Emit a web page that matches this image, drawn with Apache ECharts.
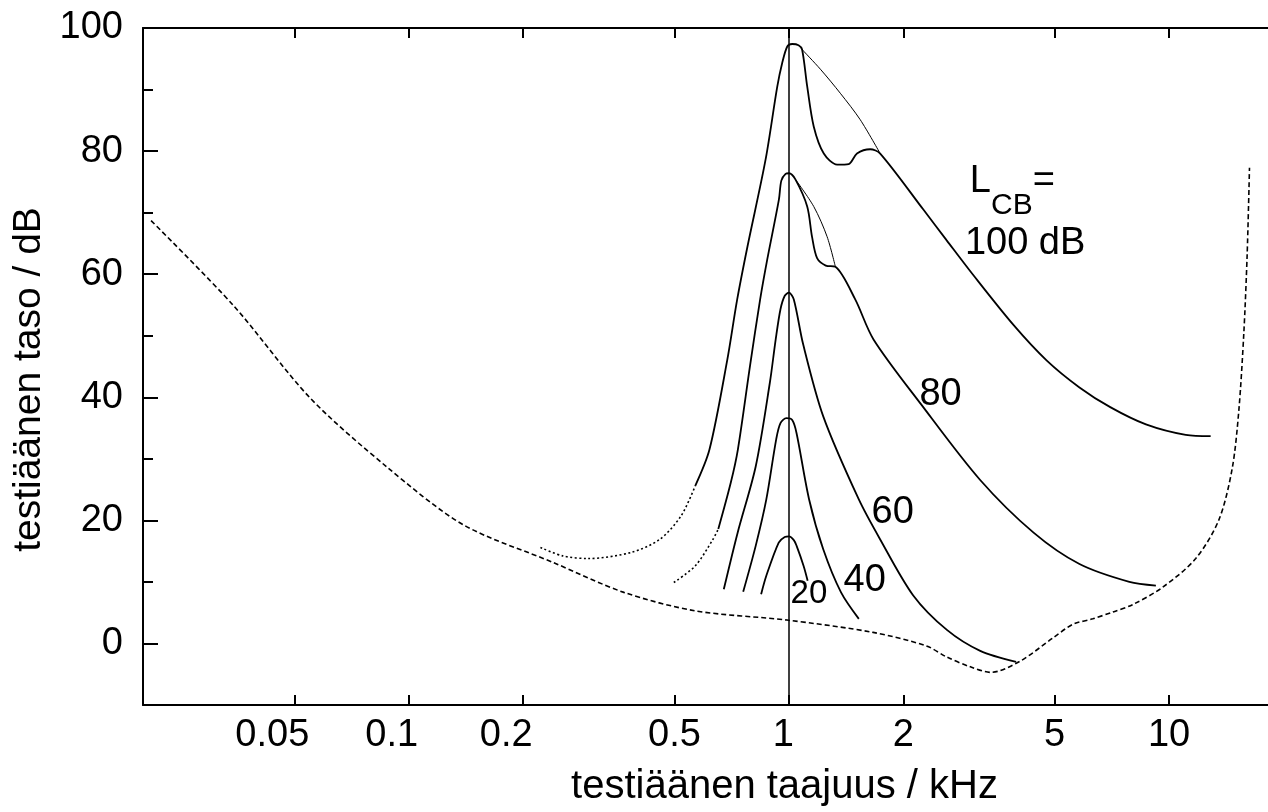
<!DOCTYPE html>
<html>
<head>
<meta charset="utf-8">
<script src="https://cdn.jsdelivr.net/npm/echarts@6.0.0/dist/echarts.min.js"></script>
<style>
  html, body { margin: 0; padding: 0; background: #fff; }
  #chart { width: 1268px; height: 812px; }
</style>
</head>
<body>
<div id="chart"></div>
<script>
// akselit: taajuus kHz (log), taso dB
const freqTicks = [0.05, 0.1, 0.2, 0.5, 1, 2, 5, 10];
const levelTicks = [0, 20, 40, 60, 80, 100];
const levelMinorTicks = [10, 30, 50, 70, 90];
const maskerFreq = 1;

// kuulokynnys [kHz, dB]
const threshold = [
  [0.021, 68.7], [0.0346, 54.9], [0.055, 39.9], [0.0875, 28.7], [0.139, 19.3],
  [0.239, 13.2], [0.368, 8.3], [0.567, 5.3], [0.988, 3.8], [1.665, 1.8],
  [2.3, -0.4], [2.6, -2.2], [3.0, -3.8], [3.4, -4.7], [4.05, -2.9], [4.95, 0.9],
  [5.58, 3.1], [6.3, 4.0], [7.1, 5.1], [8.01, 6.3], [9.6, 9.1], [11.75, 13.8],
  [13.52, 20.1], [14.65, 28.4], [15.25, 37.8], [15.72, 50.4], [16.04, 63.1], [16.27, 77.3]
];

// peittokäyrät, L_CB = 100 dB
const curve100Dotted = [
  [0.222, 15.6], [0.255, 14.2], [0.297, 13.8], [0.385, 14.8], [0.457, 16.9], [0.52, 20.7], [0.567, 25.6]
];
const curve100 = [
  [0.567, 25.6], [0.618, 31.5], [0.688, 46.0], [0.731, 55.9], [0.778, 64.5], [0.868, 78.6],
  [0.932, 90.5], [0.96, 94.3], [0.99, 97.0], [1.02, 97.4], [1.06, 97.2], [1.083, 96.5],
  [1.117, 90.5], [1.162, 84.0], [1.235, 79.6], [1.339, 77.8], [1.436, 77.9], [1.51, 79.6],
  [1.636, 80.3], [1.738, 79.6], [2.257, 70.5], [2.6, 65.5], [3.05, 59.9], [3.89, 51.8],
  [4.76, 46.0], [5.81, 41.6], [7.0, 38.4], [8.69, 35.6], [11.06, 33.9], [12.86, 33.7]
];
const envelope100 = [
  [1.083, 96.5], [1.21, 93.3], [1.365, 89.4], [1.54, 85.1], [1.738, 79.6]
];

// L_CB = 80 dB
const curve80Dotted = [[0.498, 9.9], [0.567, 12.6], [0.631, 16.9], [0.652, 18.6]];
const curve80 = [
  [0.652, 18.6], [0.703, 26.1], [0.734, 31.5], [0.79, 45.1], [0.84, 55.9], [0.877, 62.4],
  [0.941, 72.1], [0.955, 75.2], [0.98, 76.3], [1.0, 76.4], [1.04, 75.4], [1.117, 71.0],
  [1.15, 66.1], [1.186, 62.6], [1.25, 61.4], [1.325, 61.2], [1.494, 55.9], [1.669, 49.4],
  [2.23, 38.8], [3.18, 26.6], [4.4, 18.0], [5.81, 12.9], [7.86, 10.0], [9.23, 9.4]
];
const envelope80 = [[1.04, 75.4], [1.162, 71.0], [1.26, 66.1], [1.325, 61.2]];

// L_CB = 60 dB
const curve60 = [
  [0.674, 8.8], [0.733, 18.0], [0.818, 28.8], [0.891, 42.4], [0.923, 49.4], [0.95, 54.3],
  [0.975, 56.5], [1.0, 57.0], [1.03, 55.9], [1.09, 48.6], [1.231, 36.9], [1.527, 23.4],
  [1.738, 16.9], [2.123, 7.8], [2.603, 2.2], [3.185, -1.2], [3.96, -3.0]
];

// L_CB = 40 dB
const curve40 = [
  [0.758, 8.4], [0.818, 15.9], [0.872, 23.4], [0.926, 33.2], [0.95, 35.8], [0.985, 36.6],
  [1.02, 36.3], [1.047, 34.2], [1.13, 23.4], [1.231, 15.3], [1.371, 8.3], [1.527, 4.0]
];

// L_CB = 20 dB
const curve20 = [
  [0.845, 8.0], [0.872, 11.0], [0.94, 16.4], [0.975, 17.3], [1.0, 17.4], [1.03, 16.8],
  [1.047, 15.9], [1.093, 12.6], [1.12, 10.2]
];

// merkinnät
const noteText = ['{m|L}{s|CB}{m|=}', '{m|100 dB}', '{m|80}', '{m|60}', '{m|40}', '{k|20}'];
const noteFreq = [3.87, 4.18, 2.506, 1.875, 1.582, 1.129];
const noteLevel = [75.0, 65.0, 40.5, 21.3, 10.3, 8.0];

const font = 'Liberation Sans, Arial, Helvetica, sans-serif';
const ink = '#000';

const line = (name, data, width, type) => ({
  name,
  type: 'line',
  data,
  showSymbol: false,
  smooth: 0.3,
  silent: true,
  lineStyle: { color: ink, width: width, type: type || 'solid' },
  z: 3
});

const thresholdSeries = line('kuulokynnys', threshold, 1.6, [5, 3]);
thresholdSeries.markLine = {
  silent: true,
  symbol: 'none',
  label: { show: false },
  lineStyle: { color: ink, type: 'solid', width: 1.5 },
  data: [{ xAxis: maskerFreq }]
};

const tickLabel = v => {
  const t = String(parseFloat(Number(v).toPrecision(4)));
  if (v < 0.07) return '{sw|' + t + '}';
  if (v < 0.45) return '{sh|' + t + '}';
  if (Math.abs(v - 1) < 1e-6) return '{one|' + t + '}';
  return '{n|' + t + '}';
};
const labelRich = {
  n: { fontSize: 38, fontFamily: font, color: ink },
  sw: { fontSize: 38, fontFamily: font, color: ink, padding: [0, 44, 0, 0] },
  sh: { fontSize: 38, fontFamily: font, color: ink, padding: [0, 34, 0, 0] },
  one: { fontSize: 38, fontFamily: font, color: ink, padding: [0, 11, 0, 0] }
};

// oikea reuna rajautuu kuvan reunaan n. 18 kHz:ssä
const freqMin = 0.02;
const freqMax = 18.2;

const option = {
  animation: false,
  backgroundColor: '#fff',
  grid: { left: 143, top: 28, right: 0, height: 678, containLabel: false },
  xAxis: [
    {
      type: 'log',
      logBase: 10,
      min: freqMin,
      max: freqMax,
      position: 'bottom',
      axisLine: { onZero: false, lineStyle: { color: ink, width: 2 } },
      axisTick: { inside: true, length: 10, customValues: freqTicks, lineStyle: { color: ink, width: 2 } },
      axisLabel: { customValues: freqTicks, margin: 12, formatter: tickLabel, rich: labelRich },
      minorTick: { show: false },
      splitLine: { show: false },
      name: 'testiäänen taajuus / kHz',
      nameLocation: 'middle',
      nameGap: 62,
      nameTextStyle: { fontSize: 40, fontFamily: font, color: ink, padding: [0, 0, 0, 158] }
    },
    {
      type: 'log',
      logBase: 10,
      min: freqMin,
      max: freqMax,
      position: 'top',
      axisLine: { onZero: false, lineStyle: { color: ink, width: 2 } },
      axisTick: { inside: true, length: 10, customValues: freqTicks, lineStyle: { color: ink, width: 2 } },
      axisLabel: { show: false },
      splitLine: { show: false }
    }
  ],
  yAxis: [
    {
      type: 'value',
      min: -10,
      max: 100,
      position: 'left',
      axisLine: { show: true, onZero: false, lineStyle: { color: ink, width: 2 } },
      axisTick: { inside: true, length: 15, customValues: levelTicks, lineStyle: { color: ink, width: 2 } },
      axisLabel: { customValues: levelTicks, margin: 20, fontSize: 38, fontFamily: font, color: ink },
      splitLine: { show: false },
      name: 'testiäänen taso / dB',
      nameLocation: 'middle',
      nameGap: 85,
      nameTextStyle: { fontSize: 39, fontFamily: font, color: ink, padding: [0, 26, 0, 0] }
    },
    {
      type: 'value',
      min: -10,
      max: 100,
      position: 'left',
      axisLine: { show: false, onZero: false },
      axisTick: { inside: true, length: 10, customValues: levelMinorTicks, lineStyle: { color: ink, width: 2 } },
      axisLabel: { show: false },
      splitLine: { show: false }
    }
  ],
  series: [
    thresholdSeries,
    line('100 dB jatke', curve100Dotted, 1.6, [2, 2.5]),
    line('100 dB', curve100, 1.8),
    line('100 dB verho', envelope100, 1.0),
    line('80 dB jatke', curve80Dotted, 1.6, [2, 2.5]),
    line('80 dB', curve80, 1.8),
    line('80 dB verho', envelope80, 1.0),
    line('60 dB', curve60, 1.8),
    line('40 dB', curve40, 1.8),
    line('20 dB', curve20, 1.8),
    {
      name: 'merkinnät',
      type: 'scatter',
      silent: true,
      symbolSize: 1,
      itemStyle: { color: 'rgba(0,0,0,0)', opacity: 1 },
      data: noteText.map((t, i) => [noteFreq[i], noteLevel[i]]),
      label: {
        show: true,
        position: 'inside',
        color: ink,
        opacity: 1,
        textBorderWidth: 0,
        formatter: p => noteText[p.dataIndex],
        rich: {
          m: { fontSize: 38, lineHeight: 38, fontFamily: font, color: ink, verticalAlign: 'top' },
          s: { fontSize: 30, lineHeight: 30, fontFamily: font, color: ink, verticalAlign: 'top', padding: [28, 0, 0, 0] },
          k: { fontSize: 33, lineHeight: 33, fontFamily: font, color: ink }
        }
      },
      z: 5
    }
  ]
};

const chart = echarts.init(document.getElementById('chart'));
chart.setOption(option);
</script>
</body>
</html>
